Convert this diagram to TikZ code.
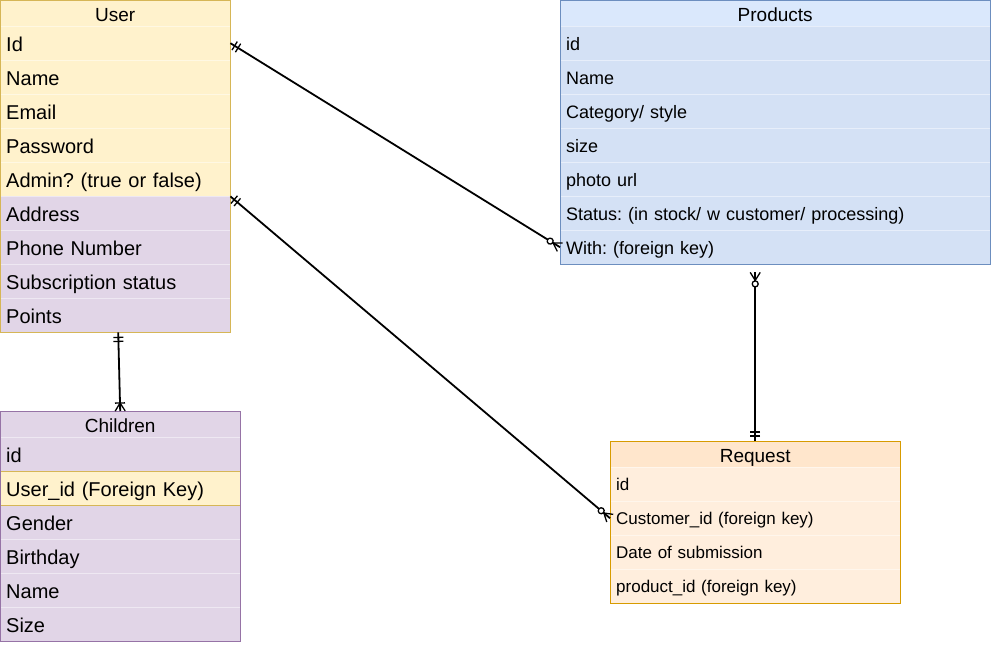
\documentclass[tikz,border=0pt]{standalone}
\usepackage{fontspec}
\setmainfont{Liberation Sans}
\frenchspacing
\usetikzlibrary{decorations.markings}

\definecolor{userfill}{HTML}{FFF2CC}
\definecolor{userline}{HTML}{D6B656}
\definecolor{kidfill}{HTML}{E1D5E7}
\definecolor{kidline}{HTML}{9673A6}
\definecolor{prodhead}{HTML}{DAE8FC}
\definecolor{prodfill}{HTML}{D4E1F5}
\definecolor{prodline}{HTML}{6C8EBF}
\definecolor{reqhead}{HTML}{FFE6CC}
\definecolor{reqfill}{HTML}{FFEEDD}
\definecolor{reqline}{HTML}{D79B00}

\tikzset{
head/.style 2 args={rectangle,anchor=north west,fill=#1,draw=#2,inner sep=0pt,
  minimum height=26pt,text height=18pt,text depth=0.5pt,
  font=\fontsize{19}{23}\selectfont},
cell/.style={rectangle,anchor=north west,fill=#1,draw=white!45!#1,
  inner xsep=6pt,inner ysep=0pt,minimum height=34pt,align=left},
ucell/.style={cell=#1,text width=218pt,text height=18pt,text depth=1pt,
  font=\fontsize{20}{24}\selectfont},
kcell/.style={cell=#1,text width=228pt,text height=18pt,text depth=1pt,
  font=\fontsize{20}{24}\selectfont},
pcell/.style={cell=prodfill,text width=418pt,text height=15pt,text depth=1pt,
  font=\fontsize{18}{22}\selectfont},
rcell/.style={cell=reqfill,text width=278pt,text height=13pt,text depth=1pt,
  font=\fontsize{17}{20}\selectfont},
tabframe/.style={draw=#1,rectangle,anchor=north west,inner sep=0pt},
erline/.style={line width=1.8pt},
mandone/.style={postaction={decorate,decoration={markings,
  mark=at position 5pt with {\draw[line width=1.3pt] (0pt,-5pt) -- (0pt,5pt);},
  mark=at position 9pt with {\draw[line width=1.3pt] (0pt,-5pt) -- (0pt,5pt);}}}},
zeromany/.style={postaction={decorate,decoration={markings,
  mark=at position 1 with {\draw[line width=1.3pt] (0pt,-5pt) -- (-8pt,0pt) -- (0pt,5pt);
    \draw[line width=1.3pt,fill=white] (-11.5pt,0pt) circle (3pt);}}}},
onemany/.style={postaction={decorate,decoration={markings,
  mark=at position 1 with {\draw[line width=1.3pt] (0pt,-5pt) -- (-8pt,0pt) -- (0pt,5pt);
    \draw[line width=1.3pt] (-8pt,-5pt) -- (-8pt,5pt);}}}}
}

\begin{document}
\begin{tikzpicture}[x=1pt,y=-1pt]
\useasboundingbox (0,0) rectangle (991,645);

% User
\node[head={userfill}{userline},minimum width=230pt](user-head) at (0,0){User};
\node[ucell=userfill](user-id) at (0,26){Id};
\node[ucell=userfill](user-name) at (0,60){Name};
\node[ucell=userfill](user-email) at (0,94){Email};
\node[ucell=userfill](user-pass) at (0,128){Password};
\node[ucell=userfill](user-admin) at (0,162){Admin? (true or false)};
\node[ucell=kidfill](user-addr) at (0,196){Address};
\node[ucell=kidfill](user-phone) at (0,230){Phone Number};
\node[ucell=kidfill](user-sub) at (0,264){Subscription status};
\node[ucell=kidfill](user-points) at (0,298){Points};
\node[tabframe=userline,minimum width=230pt,minimum height=332pt](user) at (0,0){};

% Products
\node[head={prodhead}{prodline},minimum width=430pt](prod-head) at (560,0){Products};
\node[pcell](prod-id) at (560,26){id};
\node[pcell](prod-name) at (560,60){Name};
\node[pcell](prod-cat) at (560,94){Category/ style};
\node[pcell](prod-size) at (560,128){size};
\node[pcell](prod-photo) at (560,162){photo url};
\node[pcell](prod-status) at (560,196){Status: (in stock/ w customer/ processing)};
\node[pcell](prod-with) at (560,230){With: (foreign key)};
\node[tabframe=prodline,minimum width=430pt,minimum height=264pt](prodtab) at (560,0){};

% Children
\node[head={kidfill}{kidline},minimum width=240pt](kid-head) at (0,411){Children};
\node[kcell=kidfill](kid-id) at (0,437){id};
\node[kcell=kidfill](kid-gender) at (0,505){Gender};
\node[kcell=kidfill](kid-birth) at (0,539){Birthday};
\node[kcell=kidfill](kid-name) at (0,573){Name};
\node[kcell=kidfill](kid-size) at (0,607){Size};
\node[kcell=userfill,draw=userline](kid-user) at (0,471){User\_id (Foreign Key)};
\node[tabframe=kidline,minimum width=240pt,minimum height=230pt](children) at (0,411){};

% Request
\node[head={reqhead}{reqline},minimum width=290pt](req-head) at (610,441){Request};
\node[rcell](req-id) at (610,467){id};
\node[rcell](req-cust) at (610,501){Customer\_id (foreign key)};
\node[rcell](req-date) at (610,535){Date of submission};
\node[rcell](req-prod) at (610,569){product\_id (foreign key)};
\node[tabframe=reqline,minimum width=290pt,minimum height=162pt](request) at (610,441){};

\coordinate (pfoot) at ([yshift=-8pt]request.north |- prodtab.south);

\draw[erline,mandone,zeromany] (user-id.east) -- (prod-with.west);
\draw[erline,mandone,zeromany] (user-admin.south east) -- (req-cust.west);
\draw[erline,mandone,zeromany] (request.north) -- (pfoot);
\draw[erline,mandone,onemany] ([xshift=3pt]user.south) -- (children.north);
\end{tikzpicture}
\end{document}
